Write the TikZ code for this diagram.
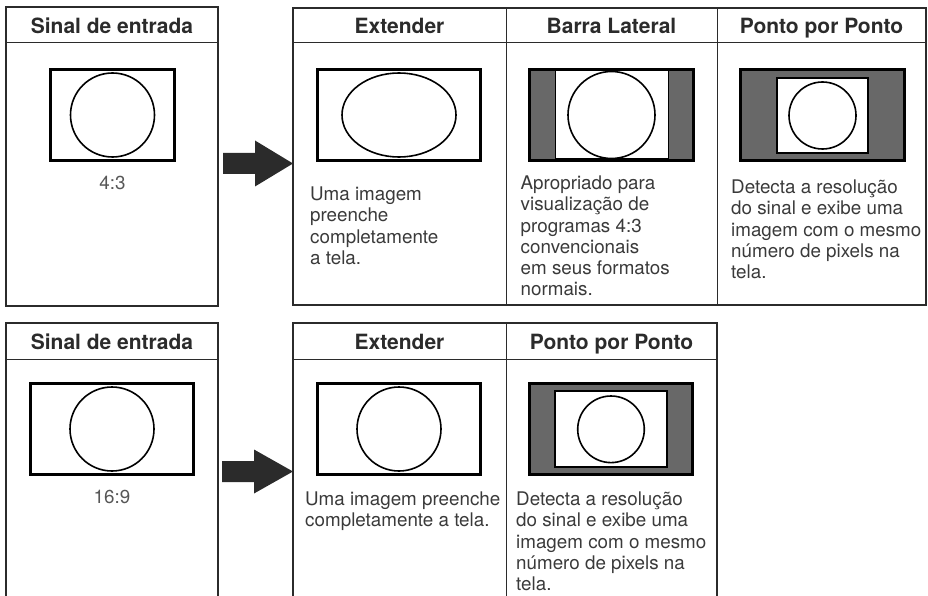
\documentclass[tikz,border=0pt]{standalone}
\usepackage{fontspec}
\setmainfont{TeX Gyre Heros}
\usetikzlibrary{positioning}
\definecolor{ink}{HTML}{2B2B2B}
\definecolor{txt}{HTML}{3A3A3A}
\definecolor{shade}{HTML}{686868}

\begin{document}
\begin{tikzpicture}[
    x=1pt, y=-1pt,
    panel/.style={draw=ink, line width=1.3pt, inner sep=0pt, outer sep=0pt},
    outpanel/.style={panel, line width=1.8pt},
    rule/.style={draw=ink, line width=1pt},
    head/.style={font=\fontsize{21}{24}\selectfont\bfseries, text=ink, anchor=base},
    screen/.style={draw=black, line width=3pt, fill=white, inner sep=0pt, minimum height=91},
    window/.style={draw=black, line width=2pt, fill=white, inner sep=0pt},
    disc/.style={draw=black, line width=1.6pt},
    ratio/.style={font=\fontsize{18.8}{21.3}\selectfont, text=txt!85},
    caption/.style={font=\fontsize{18.8}{21.3}\selectfont, text=txt, align=left, anchor=north west, inner sep=0pt},
    bigarrow/.style={fill=ink}
]
\useasboundingbox (0,0) rectangle (928,596);
\clip (0,0) rectangle (928,596);

% 4:3 signal
\node[panel, minimum width=212, minimum height=299] (inA) at (112,156.5) {};
\node[outpanel, minimum width=633, minimum height=297] (outA) at (609.5,156.5) {};
\draw[rule] (6,43) -- (218,43);
\draw[rule] (293,43) -- (926,43);
\draw[rule] (506,8) -- (506,305);
\draw[rule] (717,8) -- (717,305);
\node[head] (hInA) at (112,34) {Sinal de entrada};
\node[head] (hExtA) at (399.5,34) {Extender};
\node[head] (hBarA) at (611.5,34) {Barra Lateral};
\node[head] (hDotA) at (821.5,34) {Ponto por Ponto};

\node[screen, minimum width=124] (scrInA) at (112.5,115) {};
\draw[disc] (scrInA.center) circle (42);
\node[ratio, below=11pt of scrInA] (ratA) {4:3};

\node[screen, minimum width=163] (scrExtA) at (399,115) {};
\draw[disc] (scrExtA.center) ellipse [x radius=57, y radius=42];
\node[screen, minimum width=164, fill=shade] (scrBarA) at (611.5,115) {};
\node[window, line width=1pt, minimum width=113, minimum height=88] (winBarA) at (scrBarA.center) {};
\draw[disc] (winBarA.center) circle (43.5);
\node[screen, minimum width=164, fill=shade] (scrDotA) at (822.5,115) {};
\node[window, minimum width=91, minimum height=75] (winDotA) at (822.5,115.5) {};
\draw[disc] (winDotA.center) circle (33.5);

\node[caption] (capExtA) at (310,186.5) {Uma imagem\\preenche\\completamente\\a tela.};
\node[caption] (capBarA) at (520.5,175.5) {Apropriado para\\visualização de\\programas 4:3\\convencionais\\em seus formatos\\normais.};
\node[caption] (capDotA) at (731,179.5) {Detecta a resolução\\do sinal e exibe uma\\imagem com o mesmo\\número de pixels na\\tela.};

\coordinate (tipA) at (outA.west |- 0,163.5);
\fill[bigarrow] (tipA) -- ++(-38,-23) -- ++(0,12.5) -- ++(-32,0) -- ++(0,21) -- ++(32,0) -- ++(0,12.5) -- cycle;

% 16:9 signal
\node[panel, minimum width=212, minimum height=297] (inB) at (112,471.5) {};
\node[outpanel, minimum width=424, minimum height=297] (outB) at (505,471.5) {};
\draw[rule] (6,359) -- (218,359);
\draw[rule] (293,359) -- (717,359);
\draw[rule] (506,323) -- (506,620);
\node[head] (hInB) at (112,349) {Sinal de entrada};
\node[head] (hExtB) at (399.5,349) {Extender};
\node[head] (hDotB) at (611.5,349) {Ponto por Ponto};

\node[screen, minimum width=163] (scrInB) at (112,429) {};
\draw[disc] (scrInB.center) circle (42);
\node[ratio, below=11pt of scrInB] (ratB) {16:9};

\node[screen, minimum width=163] (scrExtB) at (399,429) {};
\draw[disc] (scrExtB.center) circle (42);
\node[screen, minimum width=163, fill=shade] (scrDotB) at (611,429) {};
\node[window, minimum width=112.5, minimum height=76] (winDotB) at (611,429.3) {};
\draw[disc] (winDotB.center) circle (33.3);

\node[caption] (capExtB) at (305,491.5) {Uma imagem preenche\\completamente a tela.};
\node[caption] (capDotB) at (516,491.5) {Detecta a resolução\\do sinal e exibe uma\\imagem com o mesmo\\número de pixels na\\tela.};

\coordinate (tipB) at (outB.west |- 0,471.5);
\fill[bigarrow] (tipB) -- ++(-39,-22) -- ++(0,11.5) -- ++(-32,0) -- ++(0,21) -- ++(32,0) -- ++(0,11.5) -- cycle;
\end{tikzpicture}
\end{document}
